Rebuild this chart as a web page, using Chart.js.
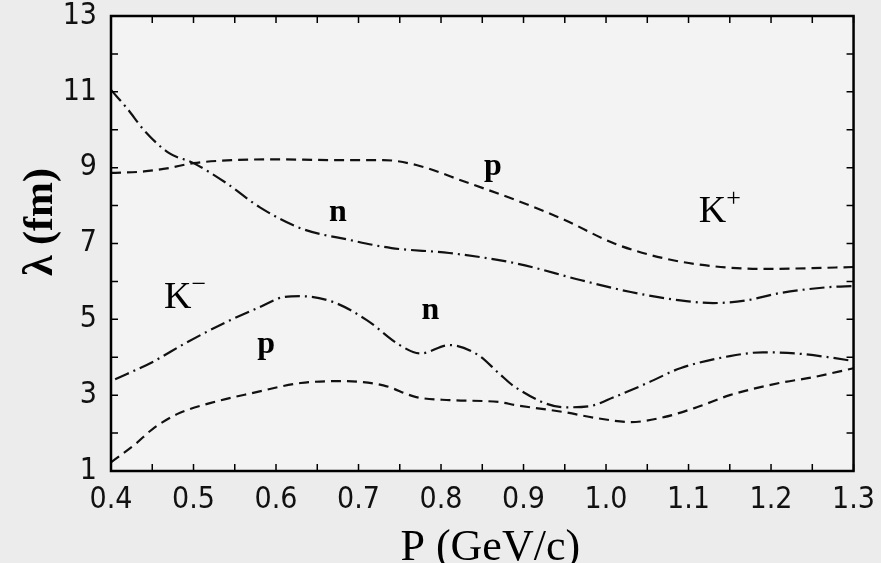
<!DOCTYPE html>
<html>
<head>
<meta charset="utf-8">
<script src="https://cdn.jsdelivr.net/npm/chart.js@4.4.0/dist/chart.umd.min.js"></script>
<style>
  html, body { margin: 0; padding: 0; background: #ececec; overflow: hidden; }
  #wrap { width: 881px; height: 563px; overflow: hidden; position: relative; }
  #chart { position: absolute; left: 0; top: -16px; }
</style>
</head>
<body>
<div id="wrap"><canvas id="chart" width="886" height="579"></canvas></div>
<script>
// K+ p (upper dashed)
const kpPx = [0.40, 0.44, 0.47, 0.50, 0.55, 0.60, 0.67, 0.73, 0.77, 0.83, 0.89, 0.95, 1.01, 1.07, 1.13, 1.19, 1.25, 1.30];
const kpLambda = [8.86, 8.90, 8.99, 9.12, 9.20, 9.22, 9.20, 9.20, 9.07, 8.62, 8.15, 7.62, 7.00, 6.61, 6.40, 6.33, 6.35, 6.38];

// K+ n (upper dash-dot)
const knPx = [0.40, 0.42, 0.44, 0.47, 0.50, 0.54, 0.58, 0.63, 0.69, 0.74, 0.81, 0.89, 0.97, 1.03, 1.09, 1.13, 1.17, 1.21, 1.27, 1.30];
const knLambda = [11.05, 10.55, 9.99, 9.39, 9.12, 8.59, 7.96, 7.40, 7.09, 6.88, 6.75, 6.48, 6.03, 5.72, 5.50, 5.43, 5.50, 5.69, 5.85, 5.88];

// K- p (lower dash-dot)
const kmpPx = [0.405, 0.45, 0.49, 0.54, 0.58, 0.61, 0.63, 0.67, 0.71, 0.75, 0.775, 0.81, 0.845, 0.87, 0.89, 0.95, 0.98, 1.01, 1.05, 1.09, 1.15, 1.19, 1.23, 1.27, 1.30];
const kmpLambda = [3.42, 3.87, 4.37, 4.93, 5.32, 5.59, 5.61, 5.45, 4.98, 4.32, 4.10, 4.32, 4.06, 3.58, 3.21, 2.68, 2.71, 2.95, 3.32, 3.71, 4.03, 4.13, 4.10, 4.00, 3.90];

// K- n (lower dashed)
const kmnPx = [0.40, 0.43, 0.45, 0.48, 0.52, 0.57, 0.63, 0.68, 0.73, 0.77, 0.81, 0.87, 0.89, 0.95, 0.99, 1.03, 1.07, 1.11, 1.15, 1.21, 1.25, 1.30];
const kmnLambda = [1.23, 1.72, 2.10, 2.50, 2.79, 3.05, 3.32, 3.37, 3.26, 2.95, 2.87, 2.82, 2.74, 2.55, 2.39, 2.29, 2.42, 2.68, 3.00, 3.32, 3.47, 3.71];

// curve labels: [text, superscript, x, y, font]
const curveLabels = [
  ['p', '', 0.863, 9.02, 'bold 32px "Liberation Serif", serif'],
  ['n', '', 0.675, 7.80, 'bold 32px "Liberation Serif", serif'],
  ['K', '+', 1.129, 7.83, '38px "Liberation Serif", serif'],
  ['K', '\u2212', 0.481, 5.56, '38px "Liberation Serif", serif'],
  ['n', '', 0.787, 5.22, 'bold 32px "Liberation Serif", serif'],
  ['p', '', 0.588, 4.32, 'bold 32px "Liberation Serif", serif']
];

const DASHED = [10, 6];
const DASHDOT = [15, 5, 2, 5];
const TICK_FONT = '"Liberation Sans Narrow", "DejaVu Sans Condensed", sans-serif';
const SHIFT = 16; // canvas is moved up by this much

function pts(xs, ys) {
  return xs.map((x, i) => ({ x: x, y: ys[i] }));
}

function curve(xs, ys, dash) {
  return {
    data: pts(xs, ys),
    borderColor: '#111',
    borderWidth: 2.2,
    borderDash: dash,
    pointRadius: 0,
    fill: false,
    cubicInterpolationMode: 'monotone'
  };
}

const framePlugin = {
  id: 'frame',
  beforeDraw(chart) {
    const ctx = chart.ctx, a = chart.chartArea;
    ctx.save();
    ctx.fillStyle = '#ececec';
    ctx.fillRect(0, 0, chart.width, chart.height);
    ctx.fillStyle = '#f3f3f3';
    ctx.fillRect(a.left, a.top, a.right - a.left, a.bottom - a.top);
    ctx.restore();
  },
  afterDraw(chart) {
    const ctx = chart.ctx, a = chart.chartArea;
    const xs = chart.scales.x, ys = chart.scales.y;
    ctx.save();
    ctx.strokeStyle = '#000';
    ctx.lineWidth = 1.5;
    ctx.beginPath();
    for (let i = 0; i <= 18; i++) {
      const px = xs.getPixelForValue(0.4 + i * 0.05);
      ctx.moveTo(px, a.bottom); ctx.lineTo(px, a.bottom - 7);
      ctx.moveTo(px, a.top); ctx.lineTo(px, a.top + 7);
    }
    for (let v = 1; v <= 13; v++) {
      const py = ys.getPixelForValue(v);
      ctx.moveTo(a.left, py); ctx.lineTo(a.left + 7, py);
      ctx.moveTo(a.right, py); ctx.lineTo(a.right - 7, py);
    }
    ctx.stroke();
    ctx.lineWidth = 2.5;
    ctx.strokeRect(a.left, a.top, a.right - a.left, a.bottom - a.top);

    // curve labels
    ctx.fillStyle = '#000';
    ctx.textAlign = 'center';
    ctx.textBaseline = 'middle';
    curveLabels.forEach(l => {
      const px = xs.getPixelForValue(l[2]), py = ys.getPixelForValue(l[3]);
      ctx.font = l[4];
      ctx.fillText(l[0], px, py);
      if (l[1]) {
        const w = ctx.measureText(l[0]).width;
        ctx.font = '26px "Liberation Serif", serif';
        ctx.textAlign = 'left';
        ctx.fillText(l[1], px + w / 2, py - 13);
        ctx.textAlign = 'center';
      }
    });

    // axis titles
    ctx.font = '44px "Liberation Serif", serif';
    ctx.textBaseline = 'alphabetic';
    ctx.fillText('P (GeV/c)', (a.left + a.right) / 2 + 8, 560 + SHIFT);

    ctx.translate(52, 222 + SHIFT);
    ctx.rotate(-Math.PI / 2);
    ctx.font = 'bold 42px "Liberation Serif", serif';
    ctx.fillText('\u03bb (fm)', 0, 0);
    ctx.restore();
  }
};

new Chart(document.getElementById('chart'), {
  type: 'line',
  data: {
    datasets: [
      curve(kpPx, kpLambda, DASHED),
      curve(knPx, knLambda, DASHDOT),
      curve(kmpPx, kmpLambda, DASHDOT),
      curve(kmnPx, kmnLambda, DASHED)
    ]
  },
  options: {
    responsive: false,
    animation: false,
    layout: { padding: { top: 0, right: 18, left: 0, bottom: 0 } },
    plugins: { legend: { display: false }, tooltip: { enabled: false } },
    scales: {
      x: {
        type: 'linear',
        min: 0.4,
        max: 1.3,
        afterFit: s => { s.height = 92; },
        grid: { display: false, drawTicks: false },
        border: { display: false },
        ticks: {
          stepSize: 0.1,
          padding: 11,
          color: '#111',
          font: { family: TICK_FONT, size: 30 },
          callback: v => Number(v).toFixed(1),
          maxRotation: 0,
          autoSkip: false
        }
      },
      y: {
        min: 1,
        max: 13,
        afterFit: s => { s.width = 111; },
        grid: { display: false, drawTicks: false },
        border: { display: false },
        ticks: {
          stepSize: 2,
          padding: 14,
          color: '#111',
          font: { family: TICK_FONT, size: 30 }
        }
      }
    }
  },
  plugins: [framePlugin]
});
</script>
</body>
</html>
